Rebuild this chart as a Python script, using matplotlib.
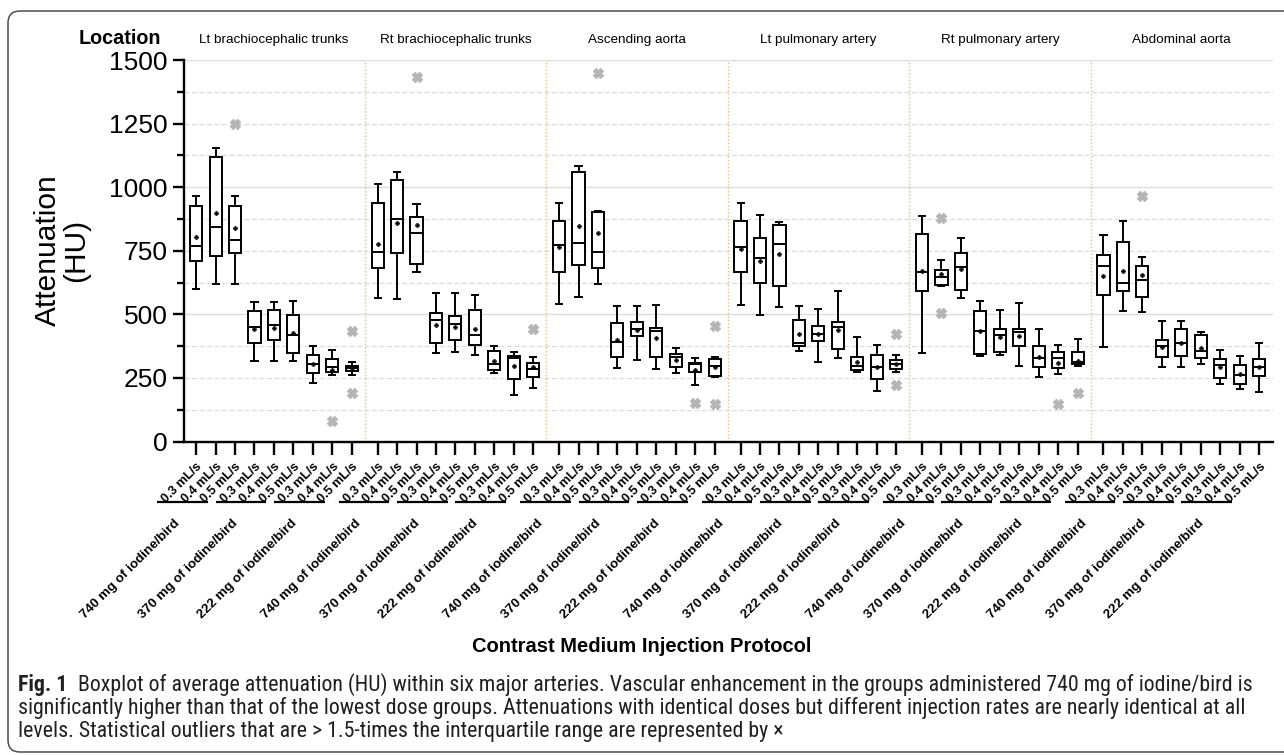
import matplotlib
matplotlib.use('Agg')
import matplotlib.pyplot as plt
import matplotlib.transforms as mtrans
from matplotlib import font_manager
from matplotlib.patches import FancyBboxPatch

plt.rcParams['font.family'] = ['Liberation Sans', 'DejaVu Sans']

# ---------------- data ----------------
locations = ["Lt brachiocephalic trunks", "Rt brachiocephalic trunks", "Ascending aorta",
             "Lt pulmonary artery", "Rt pulmonary artery", "Abdominal aorta"]
doses = ["740 mg of iodine/bird", "370 mg of iodine/bird", "222 mg of iodine/bird"]
rates = ["0.3 mL/s", "0.4 mL/s", "0.5 mL/s"]

whisker_low = [601, 620, 618, 316, 316, 315, 230, 260, 263,
               565, 560, 667, 347, 350, 342, 269, 184, 209,
               542, 569, 619, 289, 320, 285, 269, 222, 252,
               535, 498, 528, 354, 311, 327, 272, 199, 272,
               347, 613, 565, 337, 340, 296, 255, 266, 298,
               371, 513, 509, 291, 291, 303, 225, 205, 193]
q1 = [710, 731, 742, 388, 398, 347, 269, 274, 278,
      682, 740, 699, 389, 401, 381, 282, 244, 252,
      665, 695, 682, 334, 414, 334, 293, 274, 259,
      667, 622, 610, 376, 396, 364, 282, 247, 287,
      593, 616, 596, 345, 353, 377, 293, 290, 303,
      575, 590, 568, 332, 337, 329, 248, 227, 256]
median = [769, 845, 793, 449, 457, 419, 306, 293, 289,
          747, 874, 818, 478, 462, 419, 303, 328, 287,
          774, 782, 746, 390, 443, 436, 332, 303, 295,
          763, 720, 778, 387, 421, 452, 296, 294, 303,
          667, 645, 686, 434, 419, 431, 327, 327, 312,
          690, 624, 635, 374, 388, 357, 299, 261, 293]
q3 = [926, 1117, 926, 513, 518, 496, 341, 325, 296,
      936, 1027, 882, 504, 494, 516, 355, 338, 308,
      866, 1058, 901, 465, 471, 448, 343, 310, 323,
      868, 799, 853, 478, 454, 469, 333, 340, 320,
      816, 674, 743, 513, 444, 444, 375, 353, 350,
      734, 786, 691, 400, 443, 417, 323, 300, 325]
whisker_high = [965, 1153, 965, 547, 547, 554, 377, 360, 311,
                1013, 1058, 934, 585, 585, 575, 375, 351, 332,
                938, 1084, 908, 532, 532, 538, 368, 328, 333,
                939, 891, 865, 532, 522, 593, 411, 380, 342,
                887, 713, 801, 554, 516, 545, 444, 379, 404,
                812, 867, 724, 475, 475, 431, 358, 338, 389]
means = [803, 897, 841, 443, 448, 428, 306, 281, 289,
         778, 859, 850, 458, 452, 443, 316, 295, 293,
         764, 846, 820, 400, 440, 406, 321, 283, 294,
         757, 708, 737, 421, 423, 438, 311, 293, 306,
         670, 657, 679, 435, 409, 415, 332, 308, 316,
         650, 670, 654, 371, 388, 368, 293, 264, 293]
outliers = {2: [1250], 7: [80], 8: [434, 192],
            11: [1435], 17: [443],
            20: [1450], 25: [153], 26: [456, 149],
            35: [422, 222],
            37: [879, 505], 43: [148], 44: [189],
            47: [965]}

# ---------------- layout ----------------
W, H = 1284, 755
fig = plt.figure(figsize=(W / 100, H / 100), dpi=100)
ax_l, ax_r, ax_b, ax_t = 184, 1272.7, 441.5, 60
ax = fig.add_axes([ax_l / W, 1 - ax_b / H, (ax_r - ax_l) / W, (ax_b - ax_t) / H])

G = 1.32
pos = [g * (8 + G) + i for g in range(len(locations)) for i in range(9)]

# grid lines
for v in range(125, 1501, 125):
    if v % 500 == 0:
        ax.axhline(v, color='#dcdcdc', lw=1.0, zorder=0)
    else:
        ax.axhline(v, color='#dcdcdc', lw=0.9, ls=(0, (4, 2)), zorder=0)

# group separators
for g in range(len(locations) - 1):
    xs = g * (8 + G) + 8 + G / 2
    ax.axvline(xs, color='#d6c487', lw=1.0, ls=(0, (1, 1.5)), zorder=0.5)

stats = []
for k in range(len(pos)):
    stats.append(dict(med=median[k], q1=q1[k], q3=q3[k], whislo=whisker_low[k],
                      whishi=whisker_high[k], mean=means[k], fliers=outliers.get(k, [])))

lw = 1.4
ax.bxp(stats, positions=pos, widths=0.62, showmeans=True, patch_artist=True,
       boxprops=dict(facecolor='white', edgecolor='black', linewidth=lw),
       whiskerprops=dict(color='black', linewidth=lw),
       capprops=dict(color='black', linewidth=lw),
       medianprops=dict(color='black', linewidth=lw),
       meanprops=dict(marker='P', markerfacecolor='black', markeredgecolor='black',
                      markersize=3.2, markeredgewidth=0.3),
       flierprops=dict(marker='X', markerfacecolor='#b5b5b5', markeredgecolor='#b5b5b5',
                       markersize=6.5))

for s in ['top', 'right']:
    ax.spines[s].set_visible(False)
for s in ['left', 'bottom']:
    ax.spines[s].set_linewidth(1.7)

ax.set_yticks(range(0, 1501, 250))
ax.set_yticks(range(125, 1500, 250), minor=True)
ax.tick_params(axis='y', which='major', length=8, width=1.7, labelsize=19, pad=4, direction='out')
ax.tick_params(axis='y', which='minor', length=5, width=1.7, direction='out')

ax.set_xticks(pos)
ax.set_xticklabels(rates * (len(locations) * 3), rotation=45, ha='right',
                   rotation_mode='anchor', fontsize=9.2, fontweight='bold')
ax.tick_params(axis='x', length=9, width=1.7, pad=5, direction='out')

# dose bars and labels
trans = mtrans.blended_transform_factory(ax.transData, ax.transAxes)
for g in range(len(locations)):
    for d in range(3):
        first = pos[g * 9 + d * 3]
        last = pos[g * 9 + d * 3 + 2]
        ax.plot([first - 2.0, last - 1.4], [-0.158, -0.158], color='black', lw=1.6,
                transform=trans, clip_on=False, solid_capstyle='butt')
        cx = (first - 2.0 + last - 1.4) / 2
        ax.text(cx - 0.45, -0.198, doses[d], transform=trans, rotation=45, ha='right',
                va='top', rotation_mode='anchor', fontsize=9.6, fontweight='bold')

ax.set_xlim(pos[0] - 0.62, pos[-1] + 0.69)
ax.set_ylim(0, 1500)

# location titles
for g, name in enumerate(locations):
    cx = g * (8 + G) + 4
    ax.text(cx, 1.0524, name, transform=trans, ha='center', va='center', fontsize=9.7)
fig.text(79 / W, 1 - 38 / H, 'Location', ha='left', va='center', fontsize=14.2, fontweight='bold')

# axis titles
fig.text(62 / W, 1 - 250 / H, 'Attenuation\n(HU)', rotation=90, ha='center', va='center',
         fontsize=21.5, multialignment='center', linespacing=1.05)
fig.text(642 / W, 1 - 647 / H, 'Contrast Medium Injection Protocol', ha='center', va='center',
         fontsize=14.5, fontweight='bold')

# frame
frame = FancyBboxPatch((0.08, 0.03), 13.0, 7.41, boxstyle='round,pad=0,rounding_size=0.12',
                       transform=fig.dpi_scale_trans, fill=False, edgecolor='#4d4d4d', lw=1.1)
fig.add_artist(frame)

# caption
names = {f.name for f in font_manager.fontManager.ttflist}
cap_font = 'Liberation Sans'
for cand in ['Liberation Sans Narrow', 'Roboto Condensed', 'Open Sans Condensed']:
    if cand in names:
        cap_font = cand
        break

cap1 = ("Boxplot of average attenuation (HU) within six major arteries. Vascular enhancement in the "
        "groups administered 740 mg of iodine/bird is")
cap2 = ("significantly higher than that of the lowest dose groups. Attenuations with identical doses "
        "but different injection rates are nearly identical at all")
cap3 = "levels. Statistical outliers that are > 1.5-times the interquartile range are represented by \u00d7"

fig.canvas.draw()
r = fig.canvas.get_renderer()
fs0 = 11
tmpa = fig.text(0, 0, 'Fig. 1', fontsize=fs0, fontweight='bold', family=cap_font)
tmpb = fig.text(0, 0, cap1, fontsize=fs0, family=cap_font)
wa = tmpa.get_window_extent(r).width
wb = tmpb.get_window_extent(r).width
tmpa.remove(); tmpb.remove()
gap = 11
scale = (1255 - 18 - gap) / (wa + wb)
fs = fs0 * scale
wa_s = wa * scale

cap_col = '#231f20'
fig.text(18 / W, 1 - 685 / H, 'Fig. 1', fontsize=fs, fontweight='bold', family=cap_font,
         va='center', color=cap_col)
fig.text((18 + wa_s + gap) / W, 1 - 685 / H, cap1, fontsize=fs, family=cap_font, va='center', color=cap_col)
fig.text(18 / W, 1 - 708 / H, cap2, fontsize=fs, family=cap_font, va='center', color=cap_col)
fig.text(18 / W, 1 - 731 / H, cap3, fontsize=fs, family=cap_font, va='center', color=cap_col)

fig.savefig('out.png', dpi=100)
